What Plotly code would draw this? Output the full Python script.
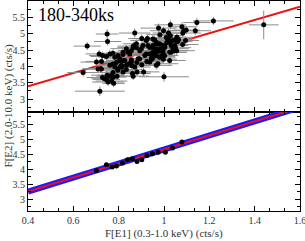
import plotly.graph_objects as go
from plotly.subplots import make_subplots

# ---- top panel (180-340 ks) data ----
top_x = [0.661, 0.749, 0.751, 0.643, 0.717, 0.702, 0.714, 0.720, 0.729, 0.746, 0.768, 0.778, 0.761, 0.793,
         0.775, 0.796, 0.819, 0.814, 0.834, 0.849, 0.871, 0.881, 0.861, 0.910, 0.937, 0.973, 1.000, 1.025,
         1.003, 1.032, 1.047, 0.976, 1.028, 0.998, 1.020, 1.079, 1.088, 1.098, 1.083, 1.095, 1.138, 1.145,
         1.218, 1.440, 0.871, 0.959, 1.010, 1.025, 1.054, 1.056, 0.981, 0.951, 0.966, 0.981, 0.995, 0.951,
         1.025, 1.060, 1.082,
         0.729, 0.746, 0.761, 0.775, 0.783, 0.797, 0.819, 0.841, 0.856, 0.878, 0.900, 0.929, 0.951, 0.981,
         1.003, 1.025, 0.834, 0.805, 0.827, 0.856, 0.893, 0.915, 0.937, 0.966, 0.995, 0.951, 0.805, 0.819,
         0.834, 0.849, 0.864, 0.878, 0.893, 0.907, 0.922, 0.937, 0.951, 0.966, 0.922, 0.886, 0.856, 0.812,
         0.783, 0.761, 0.966, 0.944, 0.864, 0.768, 0.749, 0.902, 0.927, 0.982, 0.865, 1.012, 1.057, 1.064,
         1.050, 0.843, 0.858, 0.880, 0.902, 0.924, 0.946, 0.997, 0.724, 0.709, 0.724, 0.739, 0.753, 0.775,
         0.805, 0.775, 0.790, 0.819, 1.028, 1.057, 1.039, 1.017, 1.003, 1.032, 1.047, 1.039, 0.966, 0.969,
         0.978, 0.995, 0.988, 0.962, 0.951, 0.941]
top_y = [4.62, 4.99, 4.76, 3.81, 3.24, 4.13, 4.38, 3.93, 3.66, 3.60, 3.55, 3.48, 3.70, 3.70,
         3.81, 3.88, 3.83, 3.98, 3.90, 4.08, 3.98, 3.83, 3.78, 3.83, 4.13, 4.08, 3.68, 4.18,
         4.33, 4.64, 4.64, 5.17, 5.27, 5.09, 5.02, 5.21, 5.09, 5.11, 5.02, 4.79, 5.09, 5.34,
         5.39, 5.27, 5.02, 4.81, 4.88, 4.79, 4.84, 4.48, 4.28, 4.38, 4.46, 4.54, 4.64, 4.64,
         4.43, 4.76, 4.67,
         4.33, 4.30, 4.38, 4.40, 4.28, 4.33, 4.36, 4.43, 4.48, 4.58, 4.54, 4.64, 4.58, 4.69,
         4.61, 4.74, 4.03, 4.18, 4.18, 4.20, 4.23, 4.33, 4.38, 4.33, 4.48, 4.43, 4.23, 4.43,
         4.54, 4.38, 4.58, 4.69, 4.48, 4.64, 4.79, 4.58, 4.84, 4.69, 4.38, 4.23, 4.13, 4.03,
         3.98, 4.03, 4.03, 4.23, 3.70, 3.73, 3.73, 4.85, 4.85, 4.97, 4.62, 4.72, 4.89, 4.82,
         4.57, 4.07, 4.02, 4.12, 4.05, 4.15, 4.22, 4.22, 4.15, 3.92, 3.92, 3.62, 3.52, 3.67,
         3.97, 4.07, 4.12, 4.17, 4.94, 4.77, 4.79, 4.79, 4.58, 4.43, 4.48, 4.54, 4.74, 4.54,
         4.46, 4.43, 4.31, 4.38, 4.26, 4.38]
top_xerr = [0.06, 0.05, 0.06, 0.07, 0.11, 0.07, 0.06, 0.08, 0.07, 0.06, 0.07, 0.05, 0.06, 0.08,
            0.06, 0.07, 0.08, 0.06, 0.07, 0.06, 0.07, 0.06, 0.08, 0.07, 0.06, 0.09, 0.11, 0.07,
            0.06, 0.07, 0.06, 0.08, 0.07, 0.06, 0.07, 0.06, 0.07, 0.06, 0.08, 0.06, 0.07, 0.06,
            0.09, 0.066, 0.07, 0.06, 0.07, 0.06, 0.07, 0.08, 0.07, 0.06, 0.07, 0.06, 0.07, 0.06,
            0.07, 0.06, 0.07,
            0.06, 0.07, 0.06, 0.07, 0.06, 0.08, 0.06, 0.07, 0.06, 0.07, 0.06, 0.07, 0.06, 0.07,
            0.06, 0.07, 0.07, 0.06, 0.07, 0.06, 0.07, 0.06, 0.07, 0.06, 0.07, 0.06, 0.07, 0.06,
            0.07, 0.06, 0.07, 0.06, 0.07, 0.06, 0.07, 0.06, 0.07, 0.06, 0.07, 0.06, 0.07, 0.06,
            0.07, 0.06, 0.07, 0.06, 0.07, 0.06, 0.07, 0.06, 0.07, 0.06, 0.07, 0.06, 0.07, 0.06,
            0.07, 0.06, 0.07, 0.06, 0.07, 0.06, 0.07, 0.06, 0.07, 0.06, 0.07, 0.06, 0.07, 0.06,
            0.07, 0.06, 0.07, 0.06, 0.06, 0.07, 0.06, 0.07, 0.06, 0.07, 0.06, 0.07, 0.06, 0.07,
            0.06, 0.07, 0.06, 0.07, 0.06, 0.07]
top_yerr = [0.12, 0.15, 0.12, 0.12, 0.15, 0.12, 0.12, 0.12, 0.12, 0.12, 0.12, 0.12, 0.12, 0.12,
            0.12, 0.12, 0.12, 0.12, 0.12, 0.12, 0.12, 0.13, 0.12, 0.13, 0.12, 0.14, 0.15, 0.13,
            0.13, 0.13, 0.13, 0.14, 0.14, 0.13, 0.13, 0.14, 0.14, 0.13, 0.13, 0.13, 0.14, 0.14,
            0.12, 0.44, 0.14, 0.13, 0.13, 0.13, 0.13, 0.13, 0.13, 0.12, 0.13, 0.13, 0.13, 0.13,
            0.13, 0.13, 0.13,
            0.12, 0.12, 0.12, 0.12, 0.12, 0.12, 0.12, 0.12, 0.12, 0.13, 0.13, 0.13, 0.13, 0.13,
            0.13, 0.13, 0.12, 0.12, 0.12, 0.12, 0.12, 0.12, 0.12, 0.13, 0.13, 0.12, 0.12, 0.12,
            0.12, 0.12, 0.13, 0.13, 0.12, 0.13, 0.13, 0.13, 0.13, 0.13, 0.12, 0.12, 0.12, 0.12,
            0.12, 0.12, 0.13, 0.12, 0.12, 0.12, 0.12, 0.13, 0.13, 0.13, 0.13, 0.13, 0.13, 0.13,
            0.13, 0.12, 0.12, 0.12, 0.12, 0.12, 0.12, 0.13, 0.12, 0.12, 0.12, 0.12, 0.12, 0.12,
            0.12, 0.12, 0.12, 0.12, 0.13, 0.13, 0.13, 0.13, 0.13, 0.13, 0.13, 0.13, 0.13, 0.13,
            0.13, 0.13, 0.13, 0.13, 0.12, 0.12]
top_fit_intercept = 3.39   # value at x = 0.4
top_fit_slope = 2.03

# ---- bottom panel (binned) data ----
bot_x = [0.702, 0.746, 0.771, 0.790, 0.817, 0.839, 0.861, 0.881, 0.902, 0.925, 0.949, 0.974, 1.006, 1.037, 1.079]
bot_y = [3.95, 4.14, 4.07, 4.10, 4.20, 4.31, 4.34, 4.25, 4.31, 4.45, 4.51, 4.56, 4.56, 4.70, 4.90]
bot_xerr = [0.008] * 15
bot_yerr = [0.08, 0.07, 0.06, 0.06, 0.06, 0.06, 0.06, 0.06, 0.06, 0.06, 0.06, 0.06, 0.06, 0.06, 0.07]
bot_fit_intercept = 3.25
bot_fit_slope = 2.34

x_range = [0.4, 1.6]
x_ticks = [0.4, 0.6, 0.8, 1.0, 1.2, 1.4, 1.6]
x_ticklabels = ["0.4", "0.6", "0.8", "1", "1.2", "1.4", "1.6"]
y_ticks = [3, 3.5, 4, 4.5, 5, 5.5]
y_ticklabels = ["3", "3.5", "4", "4.5", "5", "5.5"]
fit_x = x_range

FONT = "Liberation Serif"

fig = make_subplots(rows=2, cols=1, shared_xaxes=True, vertical_spacing=0,
                    row_heights=[0.529, 0.471])

top_fit_y = [top_fit_intercept + top_fit_slope * (v - 0.4) for v in fit_x]
bot_fit_y = [bot_fit_intercept + bot_fit_slope * (v - 0.4) for v in fit_x]

fig.add_trace(go.Scatter(x=fit_x, y=top_fit_y, mode="lines",
                         line=dict(color="#ee1111", width=2), hoverinfo="skip"), row=1, col=1)
fig.add_trace(go.Scatter(x=top_x, y=top_y, mode="markers",
                         marker=dict(color="black", size=5),
                         error_x=dict(type="data", array=top_xerr, color="#8c8c8c", thickness=1, width=0),
                         error_y=dict(type="data", array=top_yerr, color="#8c8c8c", thickness=1, width=0)),
              row=1, col=1)

fig.add_trace(go.Scatter(x=fit_x, y=bot_fit_y, mode="lines",
                         line=dict(color="#1a1aff", width=6), hoverinfo="skip"), row=2, col=1)
fig.add_trace(go.Scatter(x=fit_x, y=bot_fit_y, mode="lines",
                         line=dict(color="#ee1111", width=2), hoverinfo="skip"), row=2, col=1)
fig.add_trace(go.Scatter(x=bot_x, y=bot_y, mode="markers",
                         marker=dict(color="black", size=5),
                         error_x=dict(type="data", array=bot_xerr, color="#8c8c8c", thickness=1, width=0),
                         error_y=dict(type="data", array=bot_yerr, color="#8c8c8c", thickness=1, width=0)),
              row=2, col=1)

axis_common = dict(showline=True, linecolor="black", linewidth=1, mirror="allticks",
                   ticks="inside", ticklen=5, tickcolor="black", showgrid=False, zeroline=False,
                   automargin=False, ticklabeloverflow="allow",
                   tickfont=dict(family=FONT, size=10, color="#333333"))

fig.update_xaxes(range=x_range, tickmode="array", tickvals=x_ticks, ticktext=x_ticklabels,
                 minor=dict(dtick=0.2 / 3, tick0=0.4, ticks="inside", ticklen=3, tickcolor="black"),
                 **axis_common)
fig.update_xaxes(showticklabels=False, row=1, col=1)
fig.update_yaxes(tickmode="array", tickvals=y_ticks, ticktext=y_ticklabels,
                 minor=dict(dtick=0.25, tick0=3, ticks="inside", ticklen=3, tickcolor="black"),
                 **axis_common)
fig.update_yaxes(range=[2.6, 6.0], row=1, col=1)
fig.update_yaxes(range=[2.6, 5.9], row=2, col=1)

fig.add_annotation(text="180-340ks", xref="paper", yref="paper", x=0.03, y=0.99,
                   xanchor="left", yanchor="top", showarrow=False,
                   font=dict(family=FONT, size=18, color="black"))
fig.add_annotation(text="F[E2] (2.0-10.0 keV) (cts/s)", xref="paper", yref="paper",
                   x=-0.072, y=0.5, xanchor="center", yanchor="middle", textangle=-90,
                   showarrow=False, font=dict(family=FONT, size=11, color="#333333"))
fig.add_annotation(text="F[E1] (0.3-1.0 keV) (cts/s)", xref="paper", yref="paper",
                   x=0.5, y=-0.105, xanchor="center", yanchor="middle",
                   showarrow=False, font=dict(family=FONT, size=11, color="#333333"))

fig.update_layout(width=305, height=241, autosize=False, margin=dict(l=28, r=5, t=1, b=30),
                  paper_bgcolor="white", plot_bgcolor="white", showlegend=False)

fig.write_html("out.html", config={"displayModeBar": False},
               post_script="document.body.style.margin='0';document.body.style.padding='0';"
                           "document.body.style.overflow='hidden';")
